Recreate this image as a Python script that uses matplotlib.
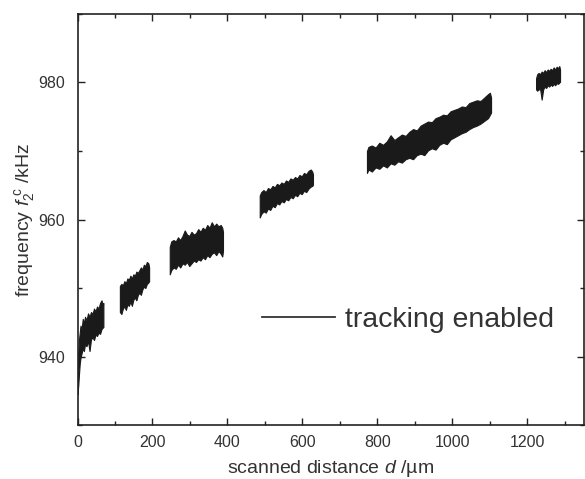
import matplotlib
matplotlib.use("Agg")
import matplotlib.pyplot as plt
from matplotlib.lines import Line2D
from matplotlib.ticker import MultipleLocator

plt.rcParams['font.family'] = ['Liberation Sans', 'DejaVu Sans']
plt.rcParams['mathtext.fontset'] = 'custom'
plt.rcParams['mathtext.rm'] = 'Liberation Sans'
plt.rcParams['mathtext.it'] = 'Liberation Sans:italic'

# ---- data: upper / lower envelopes of the noisy frequency trace ----
x1 = [0, 2, 4, 6, 8, 11, 14, 17, 20, 24, 28, 32, 36, 40, 44, 48, 52, 56, 60, 64, 67, 69]
u1 = [937.5, 940.5, 942.5, 943.5, 944.5, 944.0, 945.5, 944.8, 945.8, 945.3, 946.3, 945.8,
      946.5, 946.2, 947.0, 946.6, 947.3, 947.0, 947.8, 948.2, 947.6, 947.8]
l1 = [934.5, 935.8, 937.5, 939.0, 939.8, 940.5, 941.2, 940.8, 941.8, 941.5, 942.3, 940.8,
      942.5, 942.8, 942.4, 943.2, 943.0, 943.5, 943.3, 944.0, 944.2, 944.3]

x2 = [113, 117, 121, 125, 129, 133, 137, 141, 145, 149, 153, 157, 161, 165, 169, 173, 177,
      181, 185, 189, 191]
u2 = [950.3, 950.6, 950.4, 951.0, 950.7, 951.4, 951.2, 951.8, 951.4, 952.0, 951.8, 952.4,
      952.2, 952.6, 953.0, 952.7, 953.4, 953.2, 953.8, 953.6, 953.0]
l2 = [946.5, 946.2, 947.0, 947.3, 946.8, 947.6, 947.4, 948.0, 947.4, 948.3, 948.6, 948.2,
      949.0, 949.3, 949.0, 949.8, 950.2, 950.0, 950.6, 950.8, 951.0]

x3 = [246, 250, 256, 262, 268, 274, 280, 286, 292, 298, 304, 310, 316, 322, 328, 334, 340,
      346, 352, 358, 364, 370, 376, 382, 386, 388]
u3 = [956.0, 956.8, 957.0, 956.8, 957.4, 957.0, 957.6, 958.4, 957.8, 957.6, 958.2, 957.8,
      958.0, 958.6, 958.2, 958.8, 958.5, 959.2, 958.8, 959.6, 959.0, 959.4, 959.0, 959.2,
      958.8, 958.2]
l3 = [952.0, 952.6, 953.0, 952.8, 953.4, 953.0, 953.6, 953.4, 953.8, 953.2, 953.6, 954.0,
      953.8, 954.2, 954.0, 954.5, 954.2, 954.8, 954.5, 955.0, 955.2, 954.8, 955.4, 955.0,
      954.6, 955.4]

x4 = [486, 490, 496, 502, 508, 514, 520, 526, 532, 538, 544, 550, 556, 562, 568, 574, 580,
      586, 592, 598, 604, 610, 616, 622, 626, 628]
u4 = [963.5, 964.0, 964.3, 964.0, 964.6, 964.4, 964.9, 964.7, 965.2, 965.0, 965.4, 965.2,
      965.7, 965.5, 966.0, 965.8, 966.2, 966.0, 966.5, 966.3, 966.8, 966.6, 967.1, 967.3,
      967.0, 966.6]
l4 = [960.3, 960.8, 961.2, 961.0, 961.6, 961.4, 962.0, 961.8, 962.4, 962.2, 962.7, 962.5,
      963.0, 962.8, 963.3, 963.1, 963.6, 963.4, 963.9, 963.7, 964.2, 964.0, 964.5, 964.8,
      964.9, 965.1]

x5 = [772, 776, 785, 795, 805, 815, 825, 835, 845, 855, 865, 875, 885, 895, 905, 915, 925,
      935, 945, 955, 965, 975, 985, 995, 1005, 1015, 1025, 1035, 1045, 1055, 1065, 1075,
      1085, 1095, 1100, 1103]
u5 = [970.0, 970.6, 970.8, 970.5, 971.2, 970.9, 971.4, 972.3, 971.6, 972.0, 972.4, 972.2,
      972.8, 973.2, 973.0, 973.7, 974.0, 974.3, 974.2, 974.8, 975.0, 975.3, 975.2, 975.8,
      976.0, 976.2, 976.5, 976.4, 977.0, 977.2, 977.4, 977.3, 977.8, 978.3, 978.5, 977.8]
l5 = [966.8, 967.3, 967.0, 967.6, 967.4, 967.9, 967.6, 968.2, 968.0, 968.5, 968.3, 968.8,
      969.0, 968.8, 969.4, 969.6, 969.4, 970.1, 970.4, 970.2, 970.9, 971.2, 971.0, 971.7,
      972.0, 972.3, 972.6, 972.8, 973.2, 973.5, 973.7, 974.0, 974.4, 974.8, 975.3, 975.6]

x6 = [1223, 1226, 1230, 1234, 1238, 1242, 1246, 1250, 1254, 1258, 1262, 1266, 1270, 1274,
      1278, 1282, 1285, 1287]
u6 = [980.6, 981.2, 981.4, 981.2, 981.6, 981.4, 981.8, 981.5, 981.9, 981.7, 982.0, 981.8,
      982.2, 981.9, 982.3, 982.1, 982.4, 981.9]
l6 = [979.0, 978.8, 979.0, 979.0, 977.5, 979.0, 979.4, 979.2, 979.6, 979.4, 979.7, 979.5,
      979.8, 979.6, 979.9, 979.8, 980.0, 980.1]

segments = [(x1, u1, l1), (x2, u2, l2), (x3, u3, l3), (x4, u4, l4), (x5, u5, l5), (x6, u6, l6)]

x_ticks = [0, 200, 400, 600, 800, 1000, 1200]
y_ticks = [940, 960, 980]
legend_label = "tracking enabled"

# ---- figure ----
fig = plt.figure(figsize=(5.85, 4.79), dpi=100)
ax = fig.add_axes([0.1325, 0.1127, 0.8665, 0.8581])

trace_color = '#1a1a1a'
for xs, us, ls in segments:
    ax.fill_between(xs, ls, us, facecolor=trace_color, edgecolor=trace_color, linewidth=0.8)

ax.set_xlim(0, 1352)
ax.set_ylim(930, 990)
ax.set_xticks(x_ticks)
ax.set_yticks(y_ticks)
ax.xaxis.set_minor_locator(MultipleLocator(100))
ax.yaxis.set_minor_locator(MultipleLocator(10))
ax.tick_params(which='both', direction='in', top=True, right=True, width=1.0, color='#222222')
ax.tick_params(which='major', length=5)
ax.tick_params(which='minor', length=3)
ax.tick_params(axis='x', which='major', labelsize=11.5, pad=7, labelcolor='#333333')
ax.tick_params(axis='y', which='major', labelsize=11.5, pad=9, labelcolor='#333333')
for sp in ax.spines.values():
    sp.set_linewidth(1.2)
    sp.set_color('#222222')

ax.set_xlabel('scanned distance $d$ /µm', fontsize=14, color='#333333', labelpad=6)
ax.set_ylabel('frequency $f_{2}^{\\ \\mathrm{c}}$ /kHz', fontsize=14, color='#333333', labelpad=1)

handle = Line2D([], [], color='#333333', linewidth=1.3)
leg = fig.legend([handle], [legend_label], loc='center left',
                 bbox_to_anchor=(262 / 585, 1 - 320 / 479), frameon=False,
                 fontsize=20.5, handlelength=2.55, handletextpad=0.36,
                 borderpad=0, borderaxespad=0)
for t in leg.get_texts():
    t.set_color('#333333')

fig.savefig('out.png', dpi=100)
